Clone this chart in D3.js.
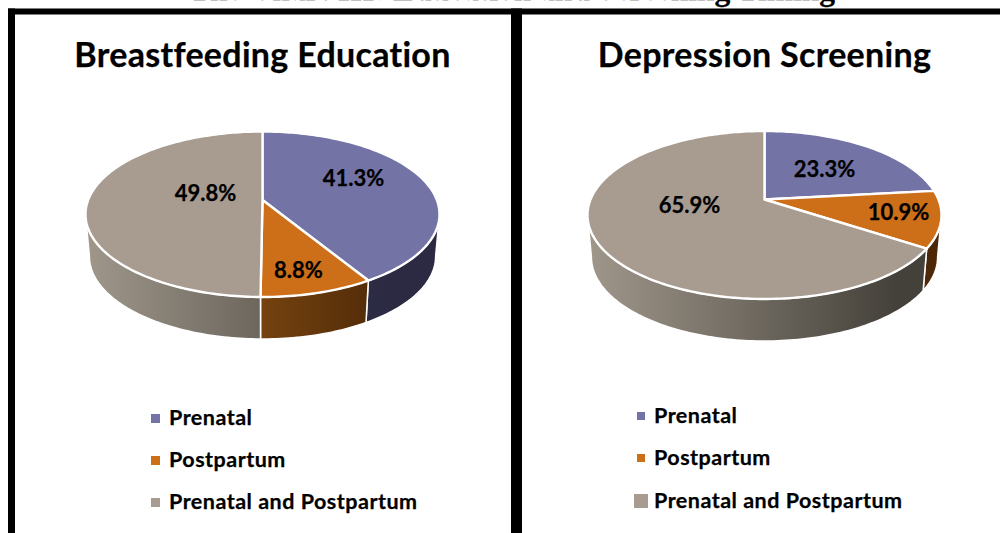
<!DOCTYPE html>
<html>
<head>
<meta charset="utf-8">
<script src="https://cdnjs.cloudflare.com/ajax/libs/d3/7.8.5/d3.min.js"></script>
<style>
html,body{margin:0;padding:0;background:#fff;overflow:hidden}
svg{display:block}
text{font-family:Lato,"Noto Sans",sans-serif;font-weight:700;fill:#000;font-variant-ligatures:none;stroke:#000;stroke-width:0.25px}
</style>
</head>
<body>
<svg id="chart" width="1000" height="533"></svg>
<script>
const pageTitle = "The Chart III: Education and Screening Timing";
const categories = ["Prenatal", "Postpartum", "Prenatal and Postpartum"];
const panelTitles = ["Breastfeeding Education", "Depression Screening"];
const breastfeedingValues = [41.3, 8.8, 49.8];
const screeningValues = [23.3, 10.9, 65.9];
const topColors = ["#7373a6", "#cd6e18", "#a89c90"];
const sideLight = ["#3d3c5e", "#a86418", "#a0978b"];
const sideDark = ["#2b2a42", "#4d2808", "#44413a"];

// layout only (pixels)
const panels = [
  {cx:262.5, apexY:200, topR:68.5, botR:97, titleY:67, values:breastfeedingValues,
   labelOffsets:[[91,-21],[36,71],[-57,-6]],
   legendX:151, textX:169, legendY:[425,467,509], markerSize:[9,9,9]},
  {cx:764.5, apexY:199.5, topR:68.5, botR:99.5, titleY:67, values:screeningValues,
   labelOffsets:[[60,-30],[134,13],[-75,6]],
   legendX:637, textX:654, legendY:[423,465,508], markerSize:[8,8,14]}
];
const halfWidth = 177, depth = 42, bottomShrink = 0.978;

const svg = d3.select("#chart");
const defs = svg.append("defs");

// frame
const frame = svg.append("g").attr("fill","#000");
frame.append("rect").attr("x",8).attr("y",8.5).attr("width",992).attr("height",6);
frame.append("rect").attr("x",8).attr("y",8.5).attr("width",7).attr("height",524.5);
frame.append("rect").attr("x",511).attr("y",8.5).attr("width",11).attr("height",524.5);

// clipped page title
svg.append("text").text(pageTitle)
  .attr("x",512).attr("y",-0.5).attr("text-anchor","middle")
  .style("font-family","'Liberation Serif',serif").style("font-size","31.5px");

const pieGen = d3.pie().sort(null).value(d => d);

panels.forEach((p, pi) => {
  const g = svg.append("g");
  // perspective: circle -> ellipse whose slice apex sits above the ellipse centre
  const ratio = p.botR / p.topR;
  const k = (ratio - 1) / (ratio + 1);
  const B = p.topR * (1 + k);
  const A = halfWidth * Math.sqrt(1 - k * k);
  const project = theta => {
    const u = Math.sin(theta), v = -Math.cos(theta), w = 1 - k * v;
    return [p.cx + A * u / w, p.apexY + B * v / w];
  };
  const projectBottom = theta => {
    const [x, y] = project(theta);
    return [p.cx + (x - p.cx) * bottomShrink, y + depth];
  };
  const samples = (a0, a1, fn) => {
    const n = Math.max(2, Math.ceil(Math.abs(a1 - a0) / 0.02));
    return d3.range(n + 1).map(i => fn(a0 + (a1 - a0) * i / n));
  };
  const line = d3.line();
  const arcs = pieGen(p.values);
  const visA = Math.acos(-k), visB = 2 * Math.PI - visA;

  // side walls
  arcs.forEach((arc, i) => {
    const a0 = Math.max(arc.startAngle, visA);
    const a1 = Math.min(arc.endAngle, visB);
    if (a1 <= a0) return;
    const id = `side-${pi}-${i}`;
    const grad = defs.append("linearGradient").attr("id",id)
      .attr("gradientUnits","userSpaceOnUse")
      .attr("x1",p.cx - halfWidth).attr("x2",p.cx + halfWidth * 0.75).attr("y1",0).attr("y2",0);
    grad.append("stop").attr("offset",0).attr("stop-color",sideLight[i]);
    grad.append("stop").attr("offset",1).attr("stop-color",sideDark[i]);
    const pts = samples(a0, a1, project).concat(samples(a1, a0, projectBottom));
    g.append("path").attr("d", line(pts) + "Z")
      .attr("fill",`url(#${id})`).attr("stroke","#fff").attr("stroke-width",1.5)
      .attr("stroke-linejoin","round");
  });
  // top faces
  arcs.forEach((a, i) => {
    const pts = [[p.cx, p.apexY]].concat(samples(a.startAngle, a.endAngle, project));
    g.append("path").attr("d", line(pts) + "Z")
      .attr("fill",topColors[i]).attr("stroke","#fff").attr("stroke-width",2.4)
      .attr("stroke-linejoin","round");
  });
  // data labels
  arcs.forEach((a, i) => {
    g.append("text").text(d3.format(".1f")(a.data) + "%")
      .attr("x",p.cx + p.labelOffsets[i][0]).attr("y",p.apexY + p.labelOffsets[i][1] + 7)
      .attr("text-anchor","middle").style("font-size","22px");
  });
  // panel title
  g.append("text").text(panelTitles[pi])
    .attr("x",p.cx).attr("y",p.titleY).attr("text-anchor","middle")
    .style("font-size","34px").style("letter-spacing","0.3px");
  // legend
  categories.forEach((c, i) => {
    const s = p.markerSize[i];
    g.append("rect").attr("x",p.legendX + (s > 9 ? -3 : 0)).attr("y",p.legendY[i] - (s > 9 ? 14 : 11))
      .attr("width",s).attr("height",s).attr("fill",topColors[i]);
    g.append("text").text(c).attr("x",p.textX).attr("y",p.legendY[i])
      .style("font-size","21.5px").style("letter-spacing","0.5px");
  });
});
</script>
</body>
</html>
